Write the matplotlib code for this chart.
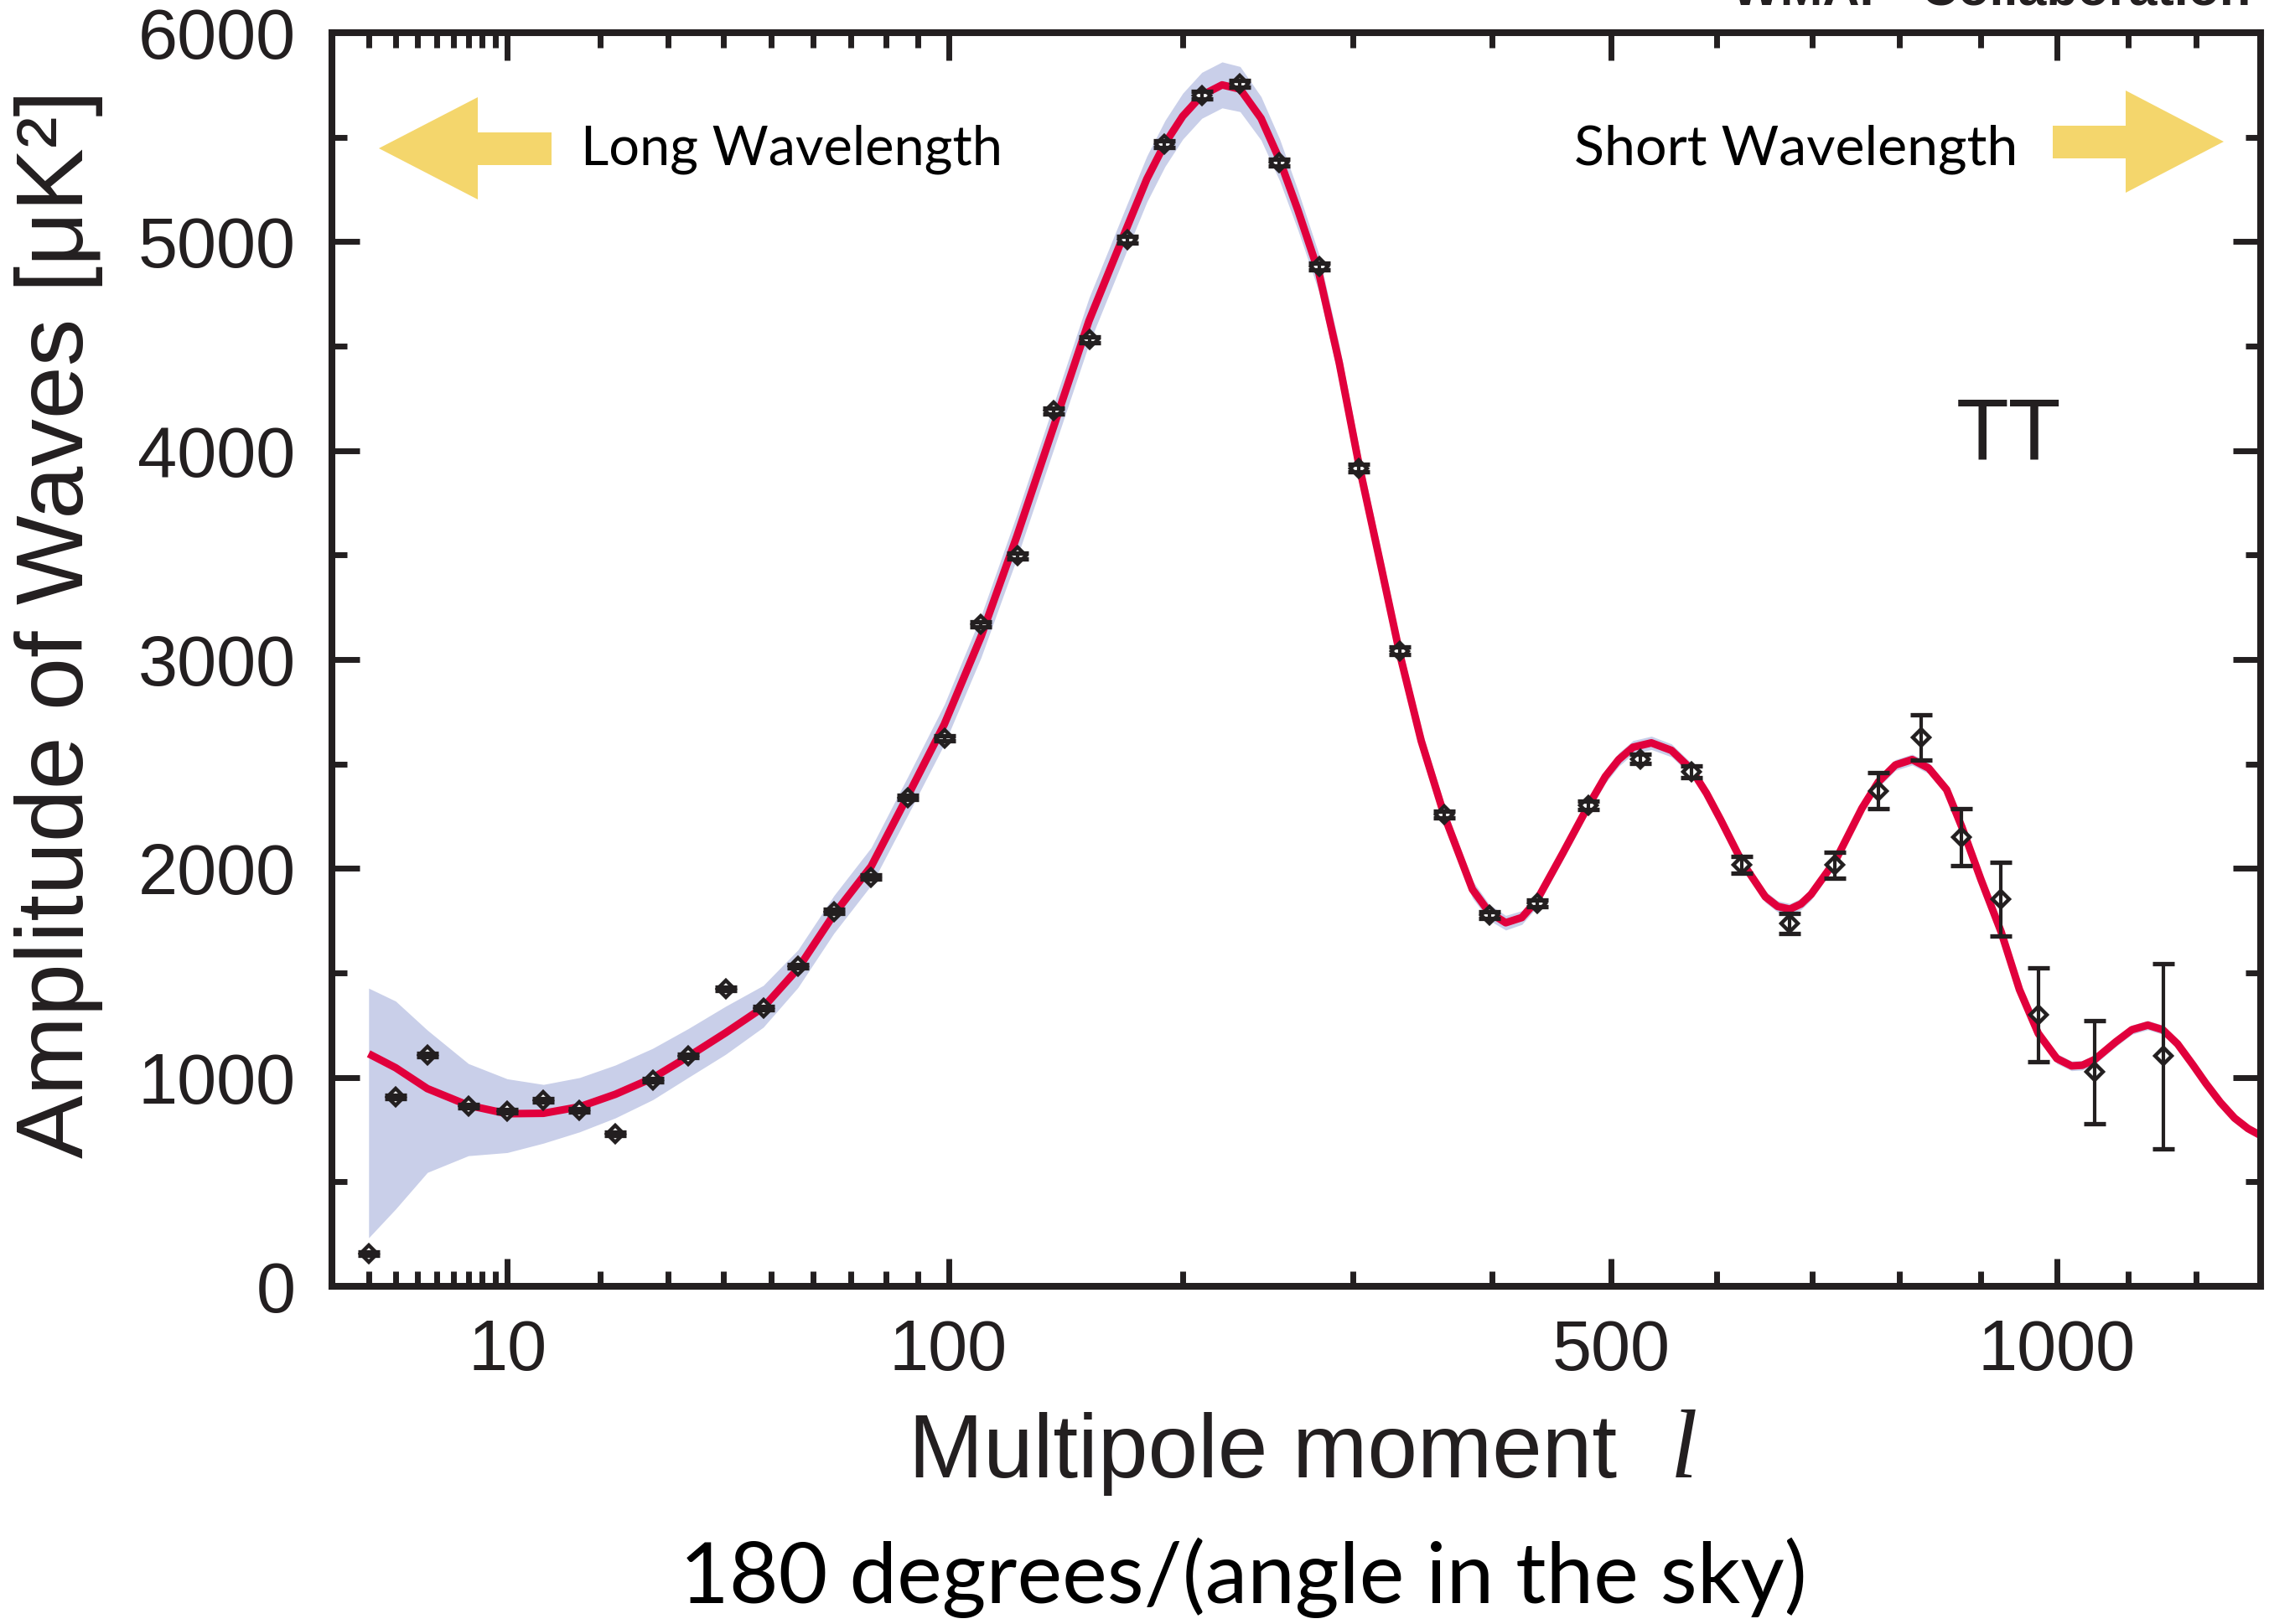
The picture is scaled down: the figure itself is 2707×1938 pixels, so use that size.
import numpy as np
import matplotlib
matplotlib.use("Agg")
import matplotlib.pyplot as plt
from matplotlib.patches import Polygon

# ---------------- data ----------------
ell_data = [2, 3, 4.5, 7, 10, 13.4, 17.4, 22, 27.5, 33.4, 40.4, 48.4, 56.4,
            65.4, 75.7, 86.8, 98.6, 111.5, 125.2, 139.7, 155.4, 172.5, 190.8,
            210.2, 230.8, 253.7, 278.1, 303.9, 332, 363.8, 398.2, 436.4, 479.7,
            526.8, 575, 625.8, 675.6, 725.6, 775.4, 825.6, 875.8, 926.1, 975.1,
            1051.6, 1151.5]
dl_data = [157, 906, 1106, 863, 838, 891, 843, 729, 985, 1102, 1424, 1331, 1531,
           1793, 1958, 2340, 2623, 3167, 3497, 4191, 4531, 5011, 5465,
           5701, 5755, 5379, 4882, 3916, 3042, 2257, 1778, 1832, 2302,
           2524, 2463, 2016, 1737, 2016, 2372, 2628, 2150, 1853, 1299,
           1026, 1101]
dl_err = [8, 8, 8, 8, 8, 8, 8, 8, 8, 8, 8, 8, 8,
          10, 10, 10, 12, 12, 14, 14, 15, 16, 16,
          17, 17, 17, 17, 17, 17, 16, 16, 17, 20,
          22, 28, 40, 47, 61, 85, 109, 137, 177, 226,
          247, 443]

ell_model = [2, 3, 4.5, 7, 10, 13.4, 17.4, 22, 27.5, 33.4, 40.4, 48.3, 56.3, 65.4,
             75.7, 86.8, 98.6, 111.5, 125, 140, 155, 172.5, 182, 191, 200, 210,
             221, 231, 243, 254, 265, 278, 291, 304, 319, 332, 347, 364, 385,
             398, 411, 424, 436, 458, 480, 495, 507, 520, 537, 556, 575, 590,
             604, 626, 650, 663, 676, 688, 699, 726, 756, 775, 795, 815, 835,
             857, 876, 900, 926, 950, 975, 1000, 1020, 1035, 1052, 1082, 1105,
             1128, 1150, 1172, 1195, 1215, 1237, 1259, 1280, 1300]
dl_model = [1113, 1046, 946, 866, 826, 828, 859, 919, 997, 1099, 1213, 1335, 1520,
            1780, 2010, 2350, 2690, 3110, 3590, 4120, 4620, 5070, 5300, 5470,
            5600, 5700, 5750, 5730, 5590, 5390, 5150, 4850, 4420, 3930, 3440,
            3020, 2610, 2250, 1900, 1790, 1740, 1765, 1845, 2073, 2300, 2440,
            2521, 2580, 2601, 2565, 2475, 2360, 2234, 2029, 1864, 1818, 1805,
            1830, 1876, 2038, 2288, 2414, 2495, 2521, 2480, 2377, 2198, 1948,
            1697, 1420, 1210, 1090, 1055, 1058, 1085, 1170, 1228, 1250, 1228,
            1160, 1060, 970, 880, 805, 755, 722]

# cosmic-variance band: explicit edges at low l, half-width for the rest
band_upper_low = [1427, 1365, 1226, 1066, 993, 966, 999, 1059, 1139, 1233, 1340, 1440]
band_lower_low = [232, 370, 545, 625, 640, 685, 739, 806, 893, 999, 1110, 1240]
band_halfwidth = [90, 90, 90, 92, 95, 100, 105, 108, 110, 110, 110, 110, 110,
                  110, 110, 108, 104, 100, 95, 90, 85, 80, 72, 65, 58, 50, 42,
                  38, 35, 33, 32, 32, 32, 32, 32, 32, 32, 31, 30, 29, 28, 28,
                  27, 27, 27, 27, 27, 27, 27, 27, 26, 26, 26, 26, 25, 25, 25,
                  24, 24, 24, 23, 23, 23, 23, 22, 22, 22, 22, 21, 21, 21, 20,
                  20, 20]

x_major = [10, 100, 500, 1000]
x_major_labels = ["10", "100", "500", "1000"]
x_minor = [2, 3, 4, 5, 6, 7, 8, 9, 20, 30, 40, 50, 60, 70, 80, 90,
           200, 300, 400, 600, 700, 800, 900, 1100, 1200]
y_major = [0, 1000, 2000, 3000, 4000, 5000, 6000]
y_minor = [500, 1500, 2500, 3500, 4500, 5500]

# ---------------- figure ----------------
W, H, DPI = 2707, 1938, 100
INK = "#231F20"
RED = "#E1003C"
BAND = "#C9CFE9"
ARROW = "#F4D66C"

plt.rcParams["font.family"] = ["Liberation Sans", "DejaVu Sans"]

fig = plt.figure(figsize=(W / DPI, H / DPI), dpi=DPI)
fig.patch.set_facecolor("white")


def fx(px):
    return px / W


def fy(py):
    return 1 - py / H


L, R, T, B = 395.5, 2697, 39, 1535
ax = fig.add_axes([fx(L), fy(B), fx(R) - fx(L), fy(T) - fy(B)])

fwd = lambda x: np.power(np.clip(x, 0, None), 0.4)
inv = lambda x: np.power(np.clip(x, 0, None), 2.5)
ax.set_xscale("function", functions=(fwd, inv))
ax.set_xlim(1, 1300)
ax.set_ylim(0, 6000)

n_low = len(band_upper_low)
band_hi = list(band_upper_low) + [m + h for m, h in zip(dl_model[n_low:], band_halfwidth)]
band_lo = list(band_lower_low) + [m - h for m, h in zip(dl_model[n_low:], band_halfwidth)]
ax.fill_between(ell_model, band_lo, band_hi, color=BAND, lw=0, zorder=1)
ax.plot(ell_model, dl_model, color=RED, lw=6.5, zorder=2,
        solid_capstyle="butt", solid_joinstyle="round")
# open diamonds first, then error bars with caps on top of them
ax.plot(ell_data, dl_data, linestyle="none", marker="D", ms=10, mfc="white",
        mec=INK, mew=3.2, zorder=3)
ax.errorbar(ell_data, dl_data, yerr=dl_err, fmt="none", ecolor=INK,
            elinewidth=3.0, capsize=9.6, capthick=3.8, zorder=4)

ax.set_xticks(x_major, x_major_labels)
ax.set_xticks(x_minor, minor=True)
ax.set_yticks(y_major, [str(v) for v in y_major])
ax.set_yticks(y_minor, minor=True)
ax.tick_params(which="both", direction="in", top=True, right=True,
               color=INK, width=5.0, labelcolor=INK, labelsize=61)
ax.tick_params(which="major", length=24)
ax.tick_params(which="minor", length=13)
ax.tick_params(axis="x", which="major", pad=27)
ax.tick_params(axis="y", which="major", pad=31)
for s in ax.spines.values():
    s.set_linewidth(5.8)
    s.set_color(INK)

# ---------------- arrows ----------------
left_arrow = [(452, 177), (570, 116), (570, 158), (658, 158), (658, 197),
              (570, 197), (570, 238)]
right_arrow = [(2653, 169), (2536, 108), (2536, 150), (2449, 150), (2449, 189),
               (2536, 189), (2536, 230)]
for pts in (left_arrow, right_arrow):
    fig.add_artist(Polygon([(fx(x), fy(y)) for x, y in pts], closed=True,
                           transform=fig.transFigure, facecolor=ARROW,
                           edgecolor="none", zorder=5))

# ---------------- texts ----------------
t_long = fig.text(fx(693), fy(197), "Long Wavelength", family=["Lato", "DejaVu Sans"],
                  fontsize=52, color="black", ha="left", va="baseline", zorder=6)
t_short = fig.text(fx(1878), fy(197), "Short Wavelength", family=["Lato", "DejaVu Sans"],
                   fontsize=52, color="black", ha="left", va="baseline", zorder=6)
t_tt = fig.text(fx(2396), fy(549), "TT", fontsize=74, color=INK, ha="center",
                va="baseline", zorder=6)
t_wmap = fig.text(fx(2066), fy(6), "WMAP  Collaboration", fontsize=44, weight="bold",
                  color=INK, ha="left", va="baseline", zorder=6)
t_ylab = fig.text(fx(70), fy(744), "Amplitude of Waves [\u03bcK\u00b2]", rotation=90,
                  fontsize=78, color=INK, ha="center", va="center")
t_xlab = fig.text(fx(1084), fy(1763), "Multipole moment", fontsize=77, color=INK,
                  ha="left", va="baseline")
t_ell = fig.text(fx(1993), fy(1763), "l", family=["Liberation Serif", "DejaVu Serif"],
                 style="italic", fontsize=84, color=INK, ha="left", va="baseline")
t_deg = fig.text(fx(811), fy(1913), "180 degrees/(angle in the sky)",
                 family=["Lato", "DejaVu Sans"], fontsize=72, color="black",
                 ha="left", va="baseline")

fig.canvas.draw()
rend = fig.canvas.get_renderer()


def fit(t, target, vertical=False):
    for _ in range(3):
        bb = t.get_window_extent(renderer=rend)
        cur = bb.height if vertical else bb.width
        t.set_fontsize(t.get_fontsize() * target / cur)


fit(t_long, 1195 - 693)
fit(t_short, 2407 - 1878)
fit(t_wmap, 2685 - 2066)
fit(t_ylab, 1381 - 107, vertical=True)
fit(t_xlab, 1929 - 1084)
fit(t_deg, 2155 - 811)

fig.savefig("out.png", dpi=DPI, facecolor="white")
